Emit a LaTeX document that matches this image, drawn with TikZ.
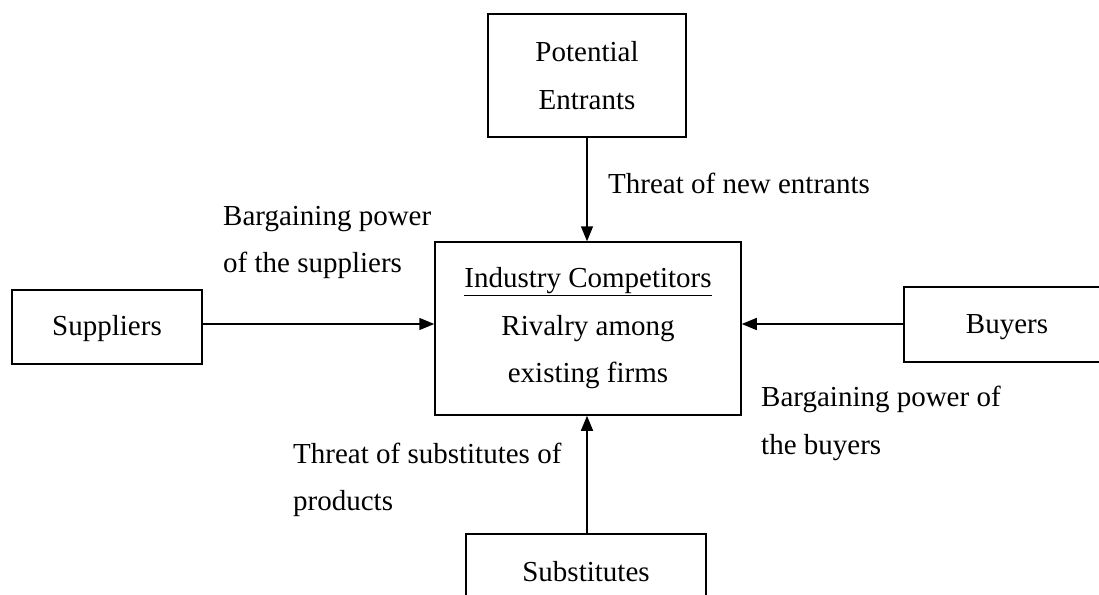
\documentclass[tikz,border=0pt]{standalone}
\usepackage{fontspec}
\setmainfont{Liberation Serif}
\usetikzlibrary{arrows.meta}
\begin{document}
\begin{tikzpicture}[x=1pt,y=-1pt,
  every node/.style={font=\fontsize{29}{47.5}\selectfont, inner sep=0pt},
  box/.style={draw, line width=1.5pt, rectangle, align=center},
  lbl/.style={anchor=base west},
  arr/.style={line width=1.5pt, -{Triangle[length=15pt,width=12pt]}}]
  \useasboundingbox (0,0) rectangle (1099,594);
  \clip (0,0) rectangle (1099,594);

  % the five forces
  \node[box, minimum width=198pt, minimum height=123pt] (ent) at (587,75.5) {Potential\\Entrants};
  \node[box, minimum width=306pt, minimum height=173pt] (comp) at (588,328.5)
    {\underline{Industry Competitors}\\Rivalry among\\existing firms};
  \node[box, minimum width=190pt, minimum height=74pt, text height=20pt, text depth=3pt] (sup) at (107,327) {Suppliers};
  \node[box, minimum width=206pt, minimum height=75pt, text height=20pt, text depth=3pt] (buy) at (1007,324.5) {Buyers};
  \node[box, minimum width=240pt, minimum height=76pt] (sub) at (586,572) {Substitutes};

  % pressures acting on the industry
  \draw[arr] (ent.south) -- (ent.south |- comp.north);
  \draw[arr] (sub.north -| ent.south) -- (comp.south -| ent.south);
  \draw[arr] (sup.east |- 0,324) -- (comp.west |- 0,324);
  \draw[arr] (buy.west |- 0,324) -- (comp.east |- 0,324);

  % force labels
  \node[lbl] (tne) at (608,193) {Threat of new entrants};
  \node[lbl] (bps1) at (223,225) {Bargaining power};
  \node[lbl] (bps2) at (223,272) {of the suppliers};
  \node[lbl] (bpb1) at (761,406) {Bargaining power of};
  \node[lbl] (bpb2) at (761,454) {the buyers};
  \node[lbl] (tsp1) at (293,463) {Threat of substitutes of};
  \node[lbl] (tsp2) at (293,510) {products};
\end{tikzpicture}
\end{document}
